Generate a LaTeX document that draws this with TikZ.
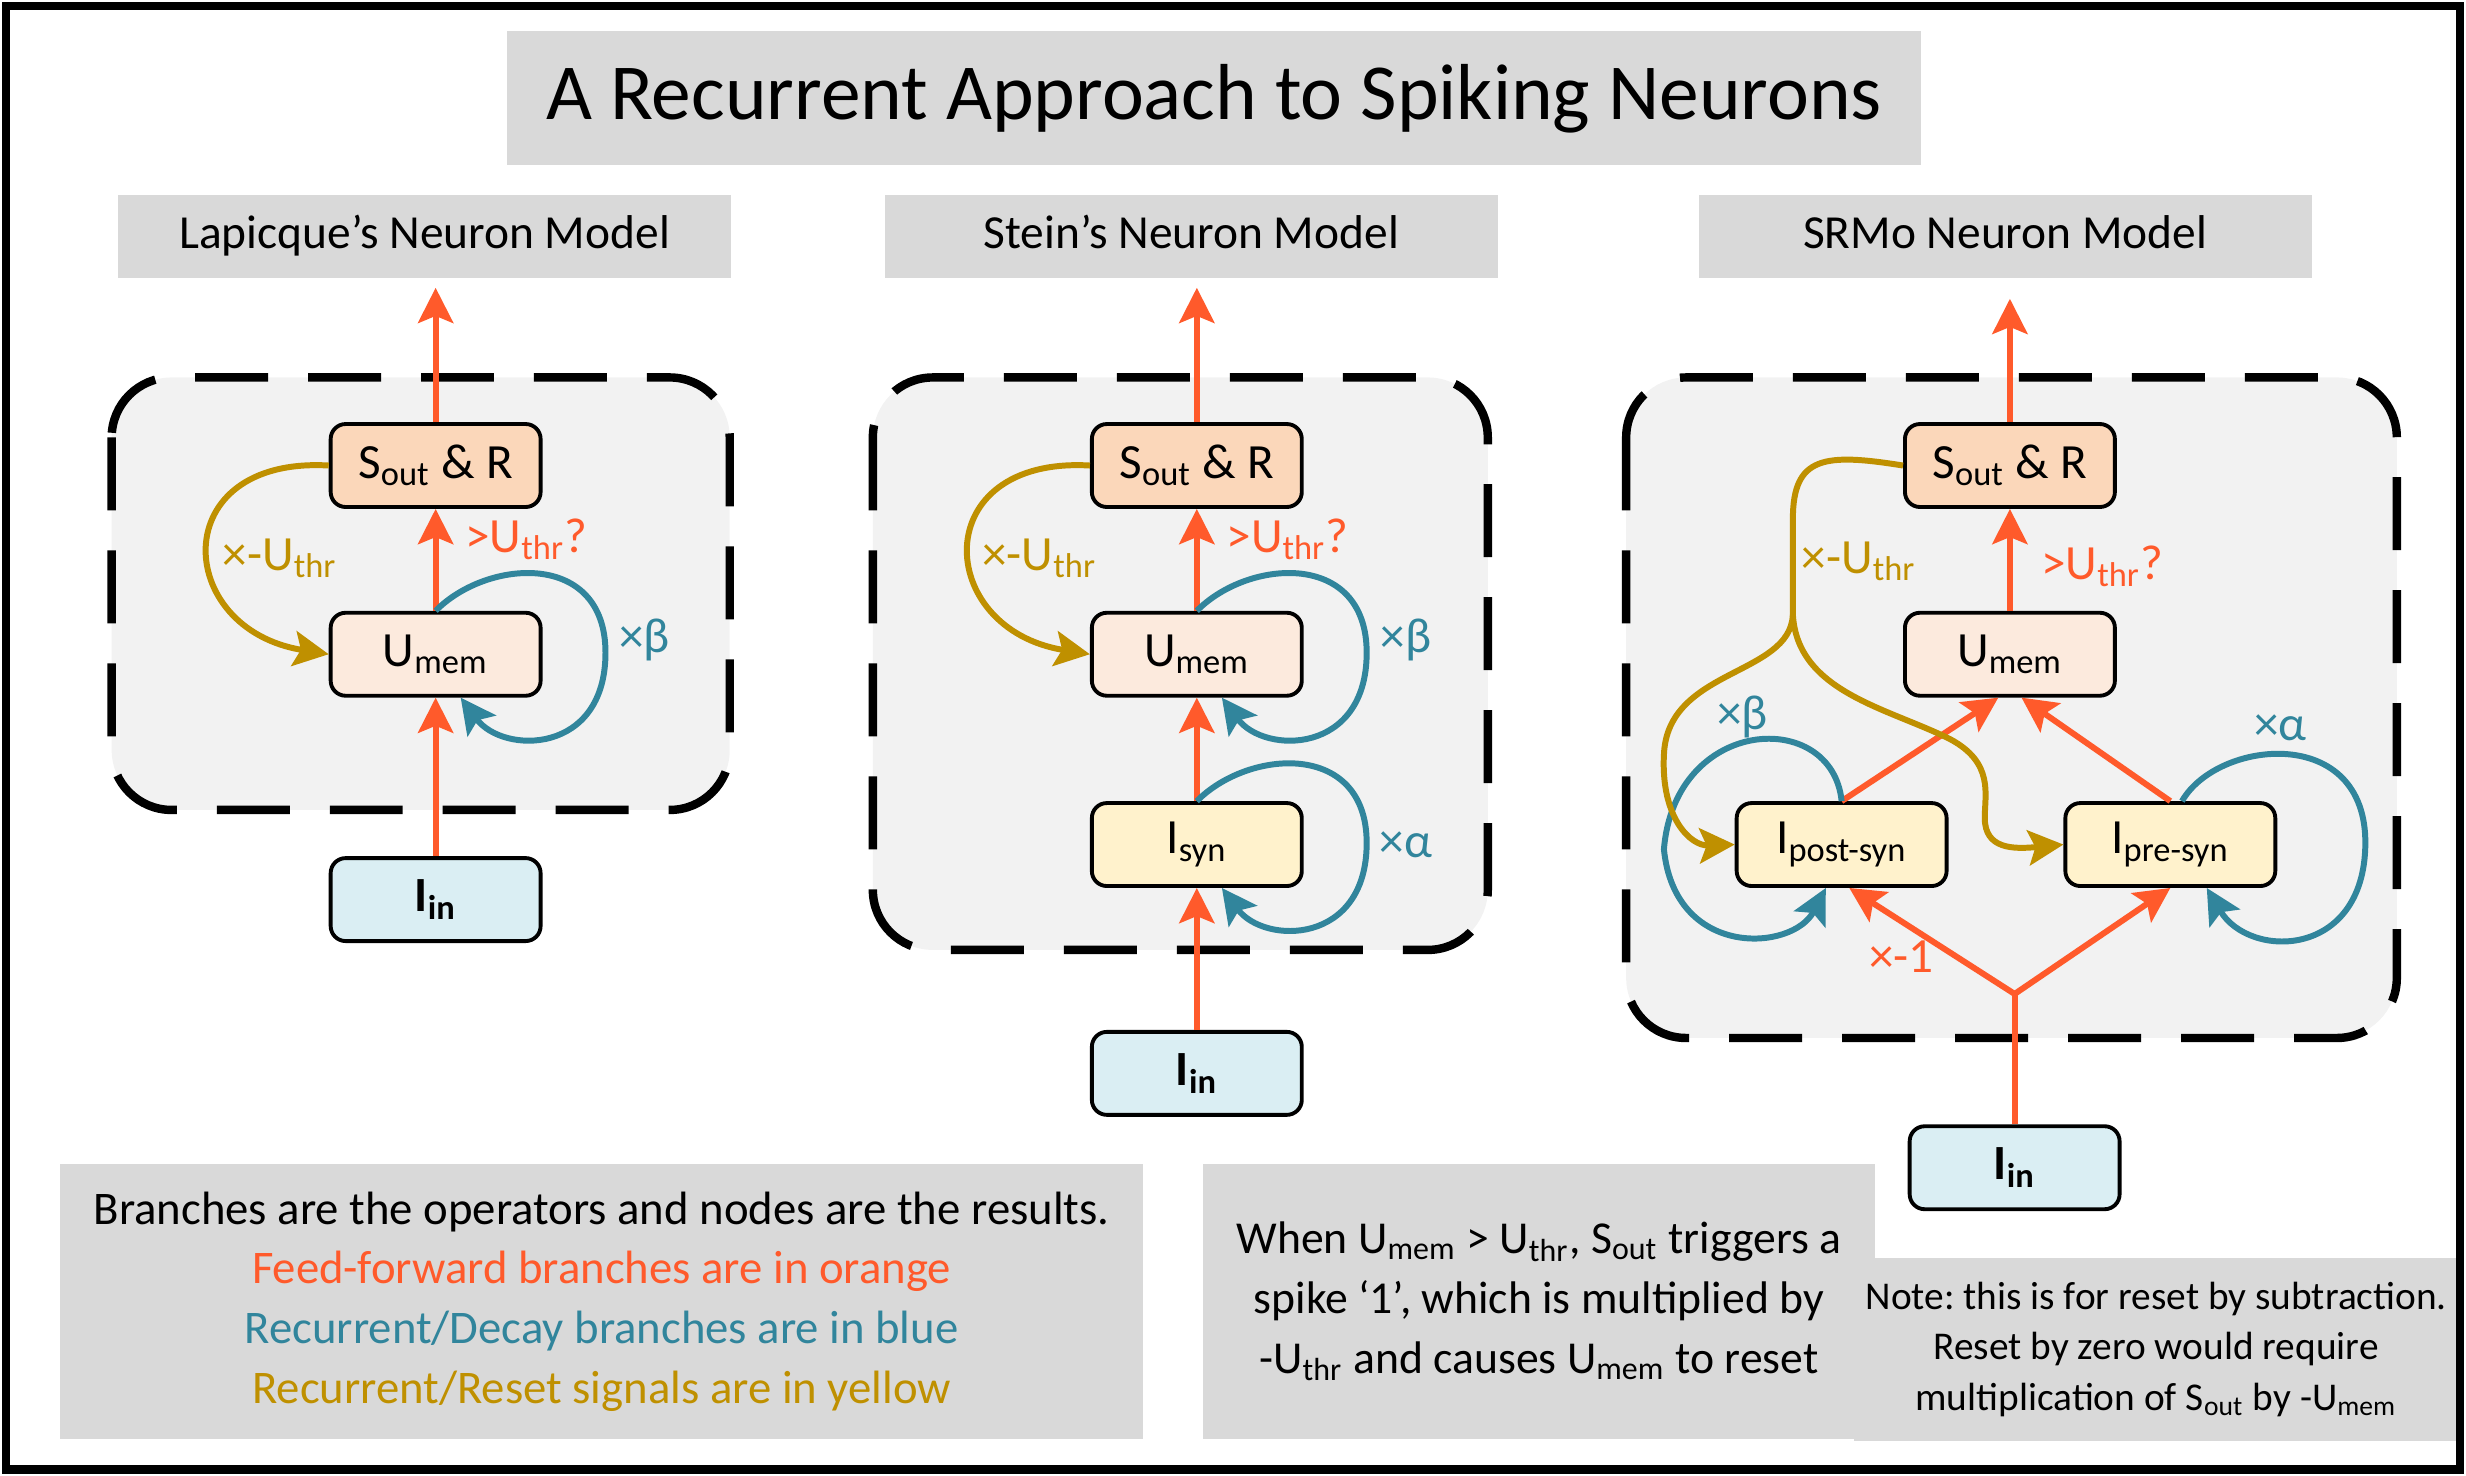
\documentclass[tikz,border=0pt]{standalone}
\usepackage{fontspec}
\setmainfont{Carlito}
\usepackage{xcolor}
\usepackage{tikz}
\usetikzlibrary{arrows.meta,positioning}
\definecolor{ffcol}{HTML}{FF5A2B}
\definecolor{deccol}{HTML}{31859C}
\definecolor{rstcol}{HTML}{BF9000}
\definecolor{spikefill}{HTML}{FBD7BA}
\definecolor{memfill}{HTML}{FCEADD}
\definecolor{synfill}{HTML}{FFF2CC}
\definecolor{infill}{HTML}{DAEEF3}
\definecolor{panelfill}{HTML}{F2F2F2}
\definecolor{boxgray}{HTML}{D9D9D9}
\newcommand{\lowtxt}[1]{\textsubscript{#1}}
\frenchspacing

\tikzset{
  neuron/.style={draw, line width=1.1pt, rounded corners=0.15cm, minimum width=2.1cm,
    minimum height=0.83cm, inner sep=2pt, font=\fontsize{14}{16}\selectfont},
  spikenode/.style={neuron, fill=spikefill},
  memnode/.style={neuron, fill=memfill},
  synnode/.style={neuron, fill=synfill},
  innode/.style={neuron, fill=infill, font=\fontsize{14}{16}\selectfont\bfseries},
  titlebox/.style={fill=boxgray, minimum width=14.15cm, minimum height=1.34cm,
    font=\fontsize{22.6}{26}\selectfont},
  header/.style={fill=boxgray, minimum width=6.13cm, minimum height=0.834cm,
    text height=0.7em, text depth=0.05em, font=\fontsize{13.5}{16}\selectfont},
  notebox/.style={fill=boxgray, align=center, font=\fontsize{13.3}{17}\selectfont},
  panel/.style={draw, fill=panelfill, line width=2.4pt, rounded corners=0.6cm,
    dash pattern=on 0.73cm off 0.4cm},
  tip/.style={-{Stealth[length=10pt, width=10pt, inset=2pt]}},
  ffline/.style={draw=ffcol, line width=1.7pt},
  ffarrow/.style={ffline, tip},
  decarrow/.style={draw=deccol, line width=1.7pt, tip},
  rstline/.style={draw=rstcol, line width=1.7pt},
  rstarrow/.style={rstline, tip},
  fflabel/.style={text=ffcol, font=\fontsize{14}{16}\selectfont},
  declabel/.style={text=deccol, font=\fontsize{14}{16}\selectfont},
  rstlabel/.style={text=rstcol, font=\fontsize{14}{16}\selectfont}
}

\begin{document}
\begin{tikzpicture}[x=0.015727cm, y=-0.015727cm]
    \useasboundingbox (0,0) rectangle (1568,938);

    % Title and headers
    \node[titlebox] (title) at (772,62.5) {A Recurrent Approach to Spiking Neurons};
    \node[header] (lapHead) at (270,150.5) {Lapicque’s Neuron Model};
    \node[header] (steinHead) at (757.5,150.5) {Stein’s Neuron Model};
    \node[header] (srmHead) at (1275,150.5) {SRMo Neuron Model};

    % Panels
    \draw[panel] (71,240) rectangle (464,515);
    \draw[panel] (555,240) rectangle (946,604);
    \draw[panel] (1034,240) rectangle (1524,660);

    % Lapicque
    \node[spikenode] (lapS) at (277,296) {S\lowtxt{out} \& R};
    \node[memnode] (lapU) at (277,416) {U\lowtxt{mem}};
    \node[innode] (lapIn) at (277,572) {I\lowtxt{in}};
    \coordinate (lapOut) at (277,183);
    \draw[ffarrow] (lapS.north) -- (lapOut);
    \draw[ffarrow] (lapU.north) -- (lapS.south);
    \draw[ffarrow] (lapIn.north) -- (lapU.south);
    \draw[rstarrow] (lapS.west) .. controls (105,290) and (110,400) .. (lapU.west);
    \draw[decarrow] (lapU.north) .. controls (310,355) and (385,350) .. (385,415)
      .. controls (385,480) and (320,480) .. (lapU.-60);
    \node[rstlabel] (lapRst) at (178,355) {×-U\lowtxt{thr}};
    \node[fflabel, anchor=west] (lapThr) at (288,343) {>U\lowtxt{thr}?};
    \node[declabel] (lapBeta) at (410,407) {×β};

    % Stein
    \node[spikenode] (steinS) at (761,296) {S\lowtxt{out} \& R};
    \node[memnode] (steinU) at (761,416) {U\lowtxt{mem}};
    \node[synnode] (steinSyn) at (761,537) {I\lowtxt{syn}};
    \node[innode] (steinIn) at (761,682.5) {I\lowtxt{in}};
    \coordinate (steinOut) at (761,183);
    \draw[ffarrow] (steinS.north) -- (steinOut);
    \draw[ffarrow] (steinU.north) -- (steinS.south);
    \draw[ffarrow] (steinSyn.north) -- (steinU.south);
    \draw[ffarrow] (steinIn.north) -- (steinSyn.south);
    \draw[rstarrow] (steinS.west) .. controls (589,290) and (594,400) .. (steinU.west);
    \draw[decarrow] (steinU.north) .. controls (794,355) and (869,350) .. (869,415)
      .. controls (869,480) and (804,480) .. (steinU.-60);
    \draw[decarrow] (steinSyn.north) .. controls (794,476) and (869,471) .. (869,536)
      .. controls (869,601) and (804,601) .. (steinSyn.-60);
    \node[rstlabel] (steinRst) at (661,355) {×-U\lowtxt{thr}};
    \node[fflabel, anchor=west] (steinThr) at (772,343) {>U\lowtxt{thr}?};
    \node[declabel] (steinBeta) at (894,407) {×β};
    \node[declabel] (steinAlpha) at (894,537) {×α};

    % SRMo
    \node[spikenode] (srmS) at (1278,296) {S\lowtxt{out} \& R};
    \node[memnode] (srmU) at (1278,416) {U\lowtxt{mem}};
    \node[synnode] (srmPost) at (1171,537) {I\lowtxt{post-syn}};
    \node[synnode] (srmPre) at (1380,537) {I\lowtxt{pre-syn}};
    \node[innode] (srmIn) at (1281,742.5) {I\lowtxt{in}};
    \coordinate (srmOut) at (1278,190);
    \coordinate (srmJoin) at (1281,632);
    \coordinate (srmSplit) at (1140,391);
    \draw[ffarrow] (srmS.north) -- (srmOut);
    \draw[ffarrow] (srmU.north) -- (srmS.south);
    \draw[ffarrow] (srmPost.north) -- (srmU.-105);
    \draw[ffarrow] (srmPre.north) -- (srmU.-75);
    \draw[ffline] (srmIn.north) -- (srmJoin);
    \draw[ffarrow] (srmJoin) -- (srmPost.-80);
    \draw[ffarrow] (srmJoin) -- (srmPre.south);
    \draw[decarrow] (srmPost.north) .. controls (1165,450) and (1065,455) .. (1058,540)
      .. controls (1065,610) and (1140,605) .. (srmPost.-110);
    \draw[decarrow] (srmPre.75) .. controls (1410,470) and (1505,460) .. (1504,537)
      .. controls (1503,610) and (1430,610) .. (srmPre.-50);
    \draw[rstline] (srmS.west) .. controls (1160,288) and (1140,290) .. (1140,330) -- (srmSplit);
    \draw[rstarrow] (srmSplit) .. controls (1138,430) and (1060,425) .. (1058,480)
      .. controls (1056,520) and (1075,538) .. (srmPost.west);
    \draw[rstarrow] (srmSplit) .. controls (1143,440) and (1200,450) .. (1240,470)
      .. controls (1268,485) and (1262,505) .. (1262,520)
      .. controls (1262,540) and (1280,540) .. (srmPre.west);
    \node[rstlabel] (srmRst) at (1182,357) {×-U\lowtxt{thr}};
    \node[fflabel, anchor=west] (srmThr) at (1290,360) {>U\lowtxt{thr}?};
    \node[declabel] (srmBeta) at (1108,456) {×β};
    \node[declabel] (srmAlpha) at (1450,463) {×α};
    \node[fflabel] (srmNeg) at (1209,608) {×-1};

    % Notes
    \node[notebox, minimum width=10.84cm, minimum height=2.75cm] (legend) at (382.5,827.5)
      {Branches are the operators and nodes are the results.\\
       \textcolor{ffcol}{Feed-forward branches are in orange}\\
       \textcolor{deccol}{Recurrent/Decay branches are in blue}\\
       \textcolor{rstcol}{Recurrent/Reset signals are in yellow}};
    \node[notebox, minimum width=6.72cm, minimum height=2.75cm,
      font=\fontsize{13}{17}\selectfont] (resetNote) at (978.5,827.5)
      {When U\lowtxt{mem} > U\lowtxt{thr}, S\lowtxt{out} triggers a\\
       spike ‘1’, which is multiplied by\\
       -U\lowtxt{thr} and causes U\lowtxt{mem} to reset};
    \node[notebox, minimum width=5.945cm, minimum height=1.83cm,
      font=\fontsize{11.2}{14.3}\selectfont] (zeroNote) at (1371,858)
      {Note: this is for reset by subtraction.\\
       Reset by zero would require\\
       multiplication of S\lowtxt{out} by -U\lowtxt{mem}};

    % Frame
    \draw[line width=2.4pt] (3.8,3.8) rectangle (1564,934.5);
\end{tikzpicture}
\end{document}
